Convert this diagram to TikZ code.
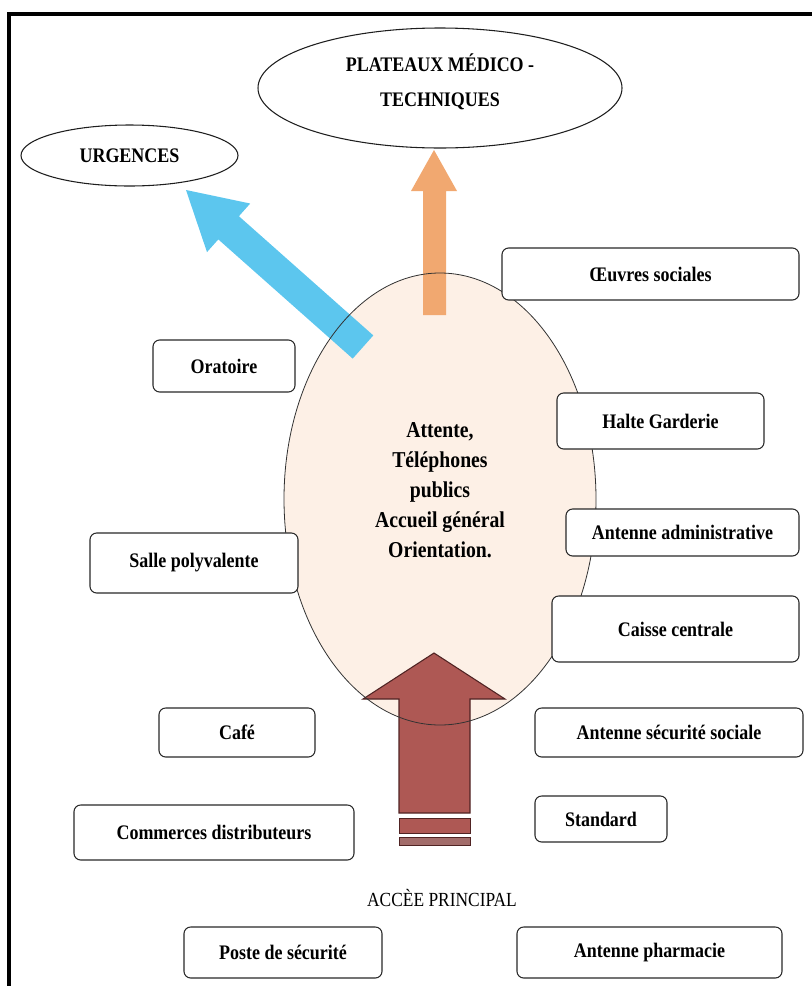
\documentclass[tikz,border=0pt]{standalone}
\usepackage{fontspec}
\setmainfont[FakeStretch=0.87]{Liberation Serif}
\usetikzlibrary{shapes.geometric}

\begin{document}
\begin{tikzpicture}[x=0.75pt,y=0.75pt,yscale=-1,xscale=1,
  room/.style={draw={rgb, 255:red, 40; green, 40; blue, 40 }, line width=0.8pt, rounded corners=5pt, fill=white, inner sep=0pt, align=center, font=\bfseries\fontsize{15.5}{18}\selectfont},
  pole/.style={draw={rgb, 255:red, 30; green, 30; blue, 30 }, ellipse, line width=0.8pt, inner sep=0pt, align=center, font=\bfseries\fontsize{15.5}{26}\selectfont},
  flow/.style={draw opacity=0, line join=miter}]
\useasboundingbox (0,0) rectangle (811,986);

%Frame
\draw [line width=2.6pt] (9,990) -- (9,14) -- (815,14) ;

%Shape: Ellipse (top poles)
\node [pole, minimum width=273pt, minimum height=90pt] (plateaux) at (440,88) {};
\node [align=center, font=\bfseries\fontsize{15.5}{26}\selectfont] (plateauxtext) at (440,82) {PLATEAUX MÉDICO -\\TECHNIQUES};
\node [pole, minimum width=162.75pt, minimum height=45.75pt] (urgences) at (129.5,155.5) {URGENCES};

%Shape: Ellipse (hall) - fill first, rim after the arrows
\node [ellipse, fill={rgb, 255:red, 253; green, 240; blue, 230 }, minimum width=234pt, minimum height=339pt, inner sep=0pt] (hall) at (440,499) {};

%Shape: Block arrow to urgences
\draw [flow, fill={rgb, 255:red, 92; green, 198; blue, 238 }] (373.3,335.4) -- (238.9,216.2) -- (250.2,203.5) -- (186,190) -- (207,252.1) -- (218.3,239.4) -- (352.7,358.6) -- cycle ;
%Shape: Block arrow to plateaux
\draw [flow, fill={rgb, 255:red, 241; green, 168; blue, 112 }] (423,315) -- (423,191) -- (411,191) -- (434,150) -- (457,191) -- (446,191) -- (446,315) -- cycle ;
%Shape: Block arrow from main access
\draw [line width=0.8pt, draw={rgb, 255:red, 80; green, 35; blue, 35 }, fill={rgb, 255:red, 174; green, 88; blue, 84 }] (399,813) -- (399,699) -- (363,699) -- (434,653) -- (505,699) -- (470,699) -- (470,813) -- cycle ;
\draw [line width=0.6pt, draw={rgb, 255:red, 80; green, 35; blue, 35 }, fill={rgb, 255:red, 174; green, 88; blue, 84 }] (399,818) rectangle (470,833) ;
\draw [line width=0.6pt, draw={rgb, 255:red, 80; green, 35; blue, 35 }, fill={rgb, 255:red, 162; green, 108; blue, 106 }] (399,837) rectangle (470,845) ;

\node [ellipse, draw={rgb, 255:red, 50; green, 50; blue, 50 }, line width=0.6pt, minimum width=234pt, minimum height=339pt, inner sep=0pt] (hallrim) at (hall.center) {};

% Text Node
\node [align=center, font=\bfseries\fontsize{17}{22.5}\selectfont] (hallnote) at (440,490) {Attente,\\Téléphones\\publics\\Accueil général\\Orientation.};

%Shape: Rounded rectangles (left side)
\node [room, minimum width=106.5pt, minimum height=39pt] (oratoire) at (224,366) {Oratoire};
\node [room, minimum width=156pt, minimum height=45pt] (salle) at (194,563) {Salle polyvalente};
\node [room, minimum width=117pt, minimum height=36.75pt] (cafe) at (237,732.5) {Café};
\node [room, minimum width=210pt, minimum height=41.25pt] (commerces) at (214,832.5) {Commerces distributeurs};
\node [room, minimum width=148.5pt, minimum height=38.25pt] (poste) at (283,952.5) {Poste de sécurité};

%Shape: Rounded rectangles (right side)
\node [room, minimum width=222.75pt, minimum height=39pt] (oeuvres) at (650.5,274) {Œuvres sociales};
\node [room, minimum width=155.25pt, minimum height=42pt] (halte) at (660.5,421) {Halte Garderie};
\node [room, minimum width=174.75pt, minimum height=35.25pt] (admin) at (682.5,532.5) {Antenne administrative};
\node [room, minimum width=185.25pt, minimum height=49.5pt] (caisse) at (675.5,629) {Caisse centrale};
\node [room, minimum width=201pt, minimum height=36.75pt] (secu) at (669,732.5) {Antenne sécurité sociale};
\node [room, minimum width=99pt, minimum height=34.5pt] (standard) at (601,819) {Standard};
\node [room, minimum width=198.75pt, minimum height=38.25pt] (pharmacie) at (649.5,952.5) {Antenne pharmacie};

% Text Node
\node [font=\fontsize{15}{18}\selectfont] (acces) at (442,898) {ACCÈE PRINCIPAL};

\end{tikzpicture}
\end{document}
